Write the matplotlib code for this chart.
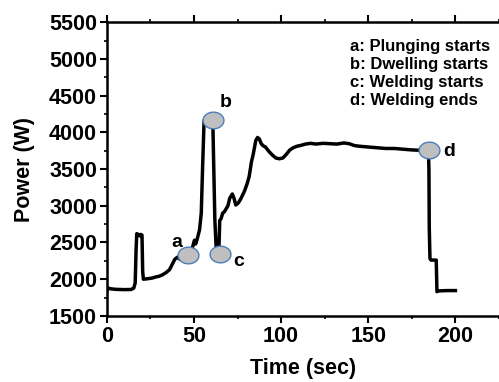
import numpy as np
import matplotlib
matplotlib.use("Agg")
import matplotlib.pyplot as plt
from matplotlib.path import Path

plt.rcParams['font.family'] = ['Liberation Sans', 'DejaVu Sans']
plt.rcParams['font.weight'] = 'bold'

# power trace
time_s = [0, 0.8, 2, 5, 10, 14, 15.5, 16.3, 16.8, 17.2, 18, 18.8, 19.5, 20.2, 20.6, 21,
          23, 26, 28, 30, 32, 34, 36, 37.5, 39, 40.5, 42, 43.5, 45, 47, 49, 50.3, 51, 52,
          53.2, 54.2, 55, 55.8, 56.5, 59, 60.8, 61.3, 62, 62.7, 63.5, 64.3, 64.8, 65.5,
          66.5, 67.5, 68.5, 69.5, 70.5, 72, 73, 74, 75.5, 77, 79, 80.5, 81.7, 83, 84,
          85.5, 86.5, 87.5, 88.5, 89.5, 91, 93, 95, 97, 99, 101, 103, 105, 107, 109, 111,
          114, 117, 120, 124, 128, 132, 136, 139, 142, 145, 150, 155, 160, 165, 170, 175,
          180, 184.5, 184.8, 185, 185.4, 186, 189, 189.4, 190, 195, 200]
power_w = [1840, 1880, 1870, 1862, 1858, 1860, 1880, 1950, 2400, 2620, 2610, 2590, 2610,
           2600, 2100, 2000, 2005, 2015, 2030, 2040, 2060, 2090, 2130, 2200, 2270, 2300,
           2270, 2290, 2320, 2330, 2420, 2530, 2480, 2560, 2670, 2900, 3550, 4150, 4200,
           4220, 4180, 3600, 2800, 2450, 2350, 2400, 2800, 2820, 2900, 2920, 2960, 3000,
           3100, 3160, 3100, 3010, 3040, 3100, 3200, 3300, 3400, 3600, 3700, 3890, 3930,
           3910, 3850, 3820, 3800, 3740, 3690, 3650, 3640, 3650, 3700, 3760, 3790, 3810,
           3820, 3840, 3850, 3840, 3850, 3845, 3840, 3855, 3845, 3820, 3810, 3800, 3790,
           3780, 3780, 3770, 3760, 3755, 3760, 3500, 2700, 2280, 2260, 2260, 1830, 1840,
           1845, 1845]

# stage markers
mark_t = [46.5, 61.0, 65.0, 184.6]
mark_p = [2330, 4170, 2345, 3760]
mark_lbl = ['a', 'b', 'c', 'd']
lbl_t = [40.2, 68.4, 75.6, 196.6]
lbl_p = [2500, 4400, 2240, 3735]

legend_lines = ['a: Plunging starts', 'b: Dwelling starts',
                'c: Welding starts', 'd: Welding ends']

fig = plt.figure(figsize=(4.99, 3.82), dpi=100)
ax = fig.add_axes([0.214, 0.173, 0.786, 0.769])

ax.plot(time_s, power_w, color='black', linewidth=2.5, solid_joinstyle='round', zorder=2)

theta = np.linspace(0, 2 * np.pi, 60)
ell = Path(np.column_stack([np.cos(theta), 0.8 * np.sin(theta)]), closed=True)
ax.plot(mark_t, mark_p, linestyle='none', marker=ell, markersize=15,
        markerfacecolor='#bfbfbf', markeredgecolor='#4a7ebb', markeredgewidth=1.0, zorder=3)

for t, p, s in zip(lbl_t, lbl_p, mark_lbl):
    ax.text(t, p, s, fontsize=14, fontweight='bold', ha='center', va='center')

ax.text(139.4, 5275, '\n'.join(legend_lines), fontsize=12, fontweight='bold',
        ha='left', va='top', linespacing=1.27)

ax.set_xlim(0, 225)
ax.set_ylim(1500, 5500)
ax.set_xticks([0, 50, 100, 150, 200])
ax.set_xticks([25, 75, 125, 175, 225], minor=True)
ax.set_yticks(np.arange(1500, 5501, 500))
ax.set_yticks(np.arange(1750, 5500, 500), minor=True)

ax.spines['right'].set_visible(False)
for s in ['left', 'bottom', 'top']:
    ax.spines[s].set_linewidth(1.8)

ax.tick_params(axis='both', which='major', direction='out', length=5, width=1.5,
               labelsize=15.5, pad=2)
ax.tick_params(axis='both', which='minor', direction='out', length=2.5, width=1.2)
ax.tick_params(axis='x', which='both', top=True)
for lab in ax.get_xticklabels() + ax.get_yticklabels():
    lab.set_fontweight('bold')

ax.set_xlabel('Time (sec)', fontsize=15.5, fontweight='bold', labelpad=8)
ax.set_ylabel('Power (W)', fontsize=15.5, fontweight='bold', labelpad=10)

fig.savefig('out.png', dpi=100)
